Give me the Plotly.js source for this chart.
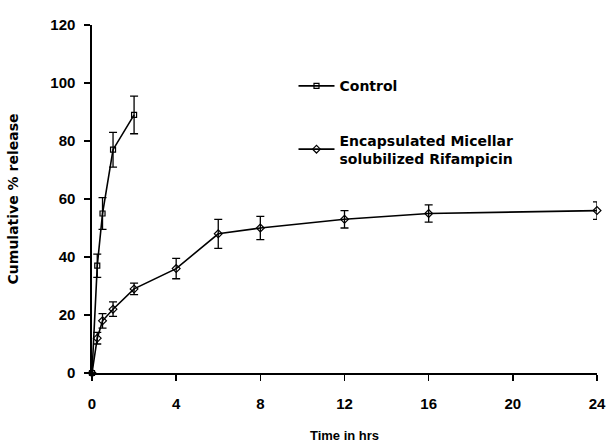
<!DOCTYPE html>
<html>
<head>
<meta charset="utf-8">
<script src="https://cdn.plot.ly/plotly-3.0.1.min.js"></script>
<style>html,body{margin:0;padding:0;background:#fff}#chart{width:607px;height:443px}</style>
</head>
<body>
<div id="chart"></div>
<script>
const controlTime = [0, 0.25, 0.5, 1, 2];
const controlRelease = [0, 37, 55, 77, 89];
const controlErr = [0, 4, 5.5, 6, 6.5];

const micellarTime = [0, 0.25, 0.5, 1, 2, 4, 6, 8, 12, 16, 24];
const micellarRelease = [0, 12, 18, 22, 29, 36, 48, 50, 53, 55, 56];
const micellarErr = [0, 2, 2.5, 2.5, 2, 3.5, 5, 4, 3, 3, 3];

const xTicks = [0, 4, 8, 12, 16, 20, 24];
const yTicks = [0, 20, 40, 60, 80, 100, 120];

const fontFam = '"Liberation Sans", Arial, sans-serif';
const wideFam = '"DejaVu Sans", sans-serif';

const traces = [
  {
    x: controlTime, y: controlRelease, name: 'Control', legendgroup: 'a',
    mode: 'lines+markers', type: 'scatter', cliponaxis: false,
    line: {color: '#000', width: 1.6},
    marker: {symbol: 'square-open', size: 5, color: '#000', line: {width: 1.2}},
    error_y: {type: 'data', array: controlErr, visible: true, color: '#000', thickness: 1.3, width: 4}
  },
  {
    x: micellarTime, y: micellarRelease, name: 'Encapsulated Micellar<br>solubilized Rifampicin', legendgroup: 'b',
    mode: 'lines+markers', type: 'scatter', cliponaxis: false,
    line: {color: '#000', width: 1.6},
    marker: {symbol: 'diamond-open', size: 6, color: '#000', line: {width: 1.2}},
    error_y: {type: 'data', array: micellarErr, visible: true, color: '#000', thickness: 1.3, width: 4}
  }
];

const layout = {
  width: 607, height: 443,
  margin: {l: 92, r: 10, t: 25, b: 70},
  paper_bgcolor: '#fff', plot_bgcolor: '#fff',
  font: {family: fontFam, color: '#000'},
  showlegend: true,
  legend: {
    x: 0.399, y: 0.87, xanchor: 'left', yanchor: 'top',
    font: {family: wideFam, size: 14, color: '#000', weight: 'bold'},
    tracegroupgap: 33, bgcolor: 'rgba(0,0,0,0)', itemwidth: 36
  },
  xaxis: {
    range: [0, 24], tickvals: xTicks, ticktext: xTicks.map(String),
    showgrid: false, zeroline: false, showline: true, linecolor: '#000', linewidth: 1.6,
    ticks: 'outside', ticklen: 6, tickwidth: 1.4, tickcolor: '#000',
    ticklabelstandoff: 10,
    tickfont: {family: fontFam, size: 15, color: '#000', weight: 'bold'},
    title: {text: 'Time in hrs', font: {family: fontFam, size: 13, color: '#000', weight: 'bold'}, standoff: 20}
  },
  yaxis: {
    range: [0, 120], tickvals: yTicks, ticktext: yTicks.map(String),
    showgrid: false, zeroline: false, showline: true, linecolor: '#000', linewidth: 1.6,
    ticks: 'outside', ticklen: 6, tickwidth: 1.4, tickcolor: '#000',
    ticklabelstandoff: 6,
    tickfont: {family: fontFam, size: 15, color: '#000', weight: 'bold'},
    title: {text: 'Cumulative % release', font: {family: wideFam, size: 14, color: '#000', weight: 'bold'}, standoff: 28}
  }
};

Plotly.newPlot('chart', traces, layout, {displayModeBar: false, staticPlot: true});
</script>
</body>
</html>
